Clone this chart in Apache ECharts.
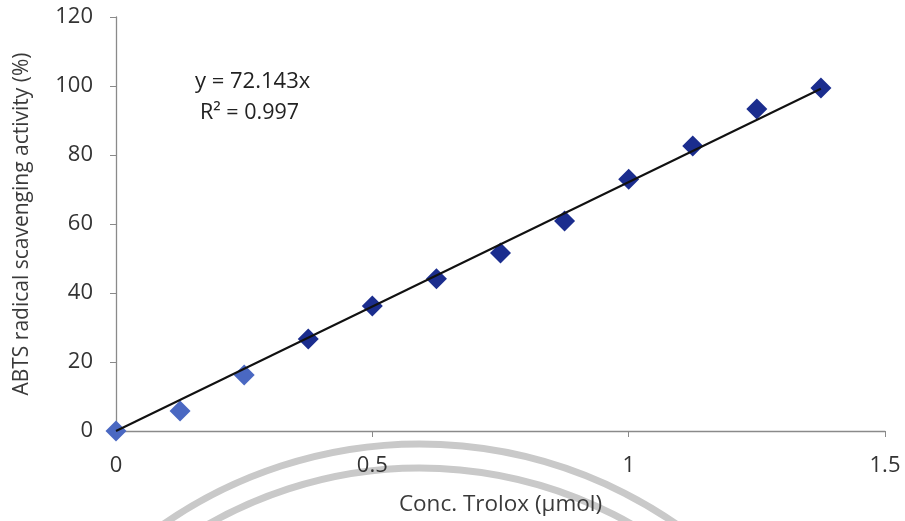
<!DOCTYPE html>
<html>
<head>
<meta charset="utf-8">
<script src="https://cdn.jsdelivr.net/npm/echarts@6/dist/echarts.min.js"></script>
<style>
  html, body { margin: 0; padding: 0; background: #fff; }
  #chart { width: 905px; height: 521px; }
</style>
</head>
<body>
<div id="chart"></div>
<script>
// Trolox standard curve: concentration (µmol) vs ABTS scavenging (%)
const concentrations = [0, 0.125, 0.25, 0.375, 0.5, 0.625, 0.75, 0.875, 1.0, 1.125, 1.25, 1.375];
const scavenging = [0, 5.8, 16.2, 26.7, 36.2, 44.1, 51.6, 60.9, 73.0, 82.6, 93.3, 99.4];
const slope = 72.143;
const rSquared = 0.997;
const xTicks = [0, 0.5, 1, 1.5];
const yTicks = [0, 20, 40, 60, 80, 100, 120];

const FONT = '"Open Sans", sans-serif';
const points = concentrations.map((c, i) => [c, scavenging[i]]);
const xEnd = concentrations[concentrations.length - 1];
const fitLine = [[0, 0], [xEnd, slope * xEnd]];

const chart = echarts.init(document.getElementById('chart'), null, { renderer: 'canvas' });

chart.setOption({
  backgroundColor: '#ffffff',
  animation: false,
  grid: { left: 116, right: 20, top: 17, bottom: 90, containLabel: false, outerBoundsMode: 'none' },
  xAxis: {
    type: 'value',
    min: xTicks[0], max: xTicks[xTicks.length - 1], interval: 0.5,
    name: 'Conc. Trolox (μmol)',
    nameLocation: 'middle', nameGap: 74,
    nameTextStyle: { fontFamily: FONT, fontSize: 22.5, color: '#3a3a3a', verticalAlign: 'middle' },
    axisLine: { show: true, lineStyle: { color: '#8a8a8a', width: 1.3 } },
    axisTick: { show: true, length: 6, lineStyle: { color: '#8a8a8a' } },
    axisLabel: { fontFamily: FONT, fontSize: 22, color: '#333', margin: 24,
      formatter: v => String(v) },
    splitLine: { show: false }
  },
  yAxis: {
    type: 'value',
    min: yTicks[0], max: yTicks[yTicks.length - 1], interval: 20,
    name: 'ABTS radical scavenging activity (%)',
    nameLocation: 'middle', nameGap: 94,
    nameTextStyle: { fontFamily: FONT, fontSize: 21, color: '#3a3a3a', verticalAlign: 'middle' },
    axisLine: { show: true, lineStyle: { color: '#8a8a8a', width: 1.3 } },
    axisTick: { show: true, length: 6, lineStyle: { color: '#8a8a8a' } },
    axisLabel: { fontFamily: FONT, fontSize: 22, color: '#333', margin: 23 },
    splitLine: { show: false }
  },
  series: [
    {
      type: 'scatter',
      data: points,
      symbol: 'diamond',
      symbolSize: 21,
      itemStyle: {
        opacity: 1,
        color: p => (p.dataIndex < 3 ? '#4a68c2' : '#1b2d8e')
      },
      z: 2
    },
    {
      type: 'line',
      data: fitLine,
      symbol: 'none',
      lineStyle: { color: '#111', width: 2 },
      z: 3
    }
  ],
  graphic: [
    {
      type: 'text', left: 195, top: 71,
      style: { text: 'y = ' + slope.toFixed(3) + 'x', font: '22px ' + FONT, fill: '#222' }
    },
    {
      type: 'text', left: 200, top: 102,
      style: { text: 'R² = ' + rSquared.toFixed(3), font: '21.5px ' + FONT, fill: '#222' }
    },
    // faint stamp arcs along the bottom edge
    {
      type: 'arc', z: -1, silent: true,
      shape: { cx: 420, cy: 894, r: 450, startAngle: Math.PI * 1.15, endAngle: Math.PI * 1.85 },
      style: { stroke: '#c9c9c9', lineWidth: 7, fill: null }
    },
    {
      type: 'arc', z: -1, silent: true,
      shape: { cx: 420, cy: 894, r: 426, startAngle: Math.PI * 1.15, endAngle: Math.PI * 1.85 },
      style: { stroke: '#c9c9c9', lineWidth: 7, fill: null }
    }
  ]
});
</script>
</body>
</html>
